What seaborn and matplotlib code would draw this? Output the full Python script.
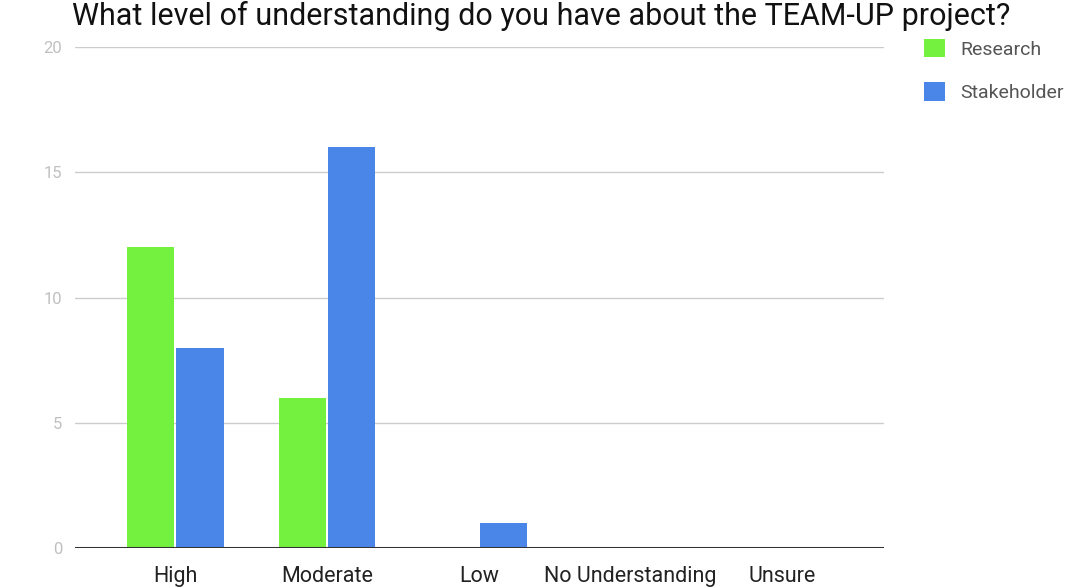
import matplotlib
matplotlib.use("Agg")
import matplotlib.pyplot as plt
import seaborn as sns
import pandas as pd
from matplotlib.patches import Patch

categories = ["High", "Moderate", "Low", "No Understanding", "Unsure"]
research = [12, 6, 0, 0, 0]
stakeholder = [8, 16, 1, 0, 0]
series_names = ["Research", "Stakeholder"]
y_ticks = [0, 5, 10, 15, 20]
title = "What level of understanding do you have about the TEAM-UP project?"

green = "#74F03E"
blue = "#4A86E8"

df = pd.DataFrame({
    "category": categories * 2,
    "value": research + stakeholder,
    "series": [series_names[0]] * len(categories) + [series_names[1]] * len(categories),
})

sns.set_theme(style="white")
plt.rcParams["font.family"] = ["Roboto", "DejaVu Sans"]

fig = plt.figure(figsize=(10.66, 5.88), dpi=100)
ax = fig.add_axes([75 / 1066, 1 - 548 / 588, (884 - 75) / 1066, (548 - 47) / 588])

sns.barplot(data=df, x="category", y="value", hue="series", order=categories,
            hue_order=series_names, palette=[green, blue], width=0.65, gap=0.04,
            saturation=1, ax=ax, legend=False, linewidth=0)

ax.set_ylim(0, 20)
ax.set_xlim(-0.66, 4.67)
ax.set_yticks(y_ticks)
ax.set_yticklabels([str(t) for t in y_ticks])
ax.grid(axis="y", color="#cccccc", linewidth=1)
ax.set_axisbelow(True)
ax.axhline(0, color="#333333", linewidth=2.2, zorder=5)
for s in ax.spines.values():
    s.set_visible(False)
ax.set_xlabel("")
ax.set_ylabel("")
ax.tick_params(axis="y", length=0, pad=9, labelsize=12, labelcolor="#c0c0c0")
ax.tick_params(axis="x", length=0, pad=13, labelsize=15.5, labelcolor="#222222")

fig.text(0.508, 1 - 25 / 588, title, ha="center", va="baseline", fontsize=22, color="#111111")

handles = [Patch(facecolor=green, edgecolor="none"), Patch(facecolor=blue, edgecolor="none")]
fig.legend(handles, series_names, loc="upper left", bbox_to_anchor=(916 / 1066, 1 - 31 / 588),
           frameon=False, fontsize=14, labelcolor="#555555", handlelength=1.1, handleheight=1.1,
           handletextpad=0.8, labelspacing=1.2, borderaxespad=0)

fig.savefig("out.png", dpi=100)
